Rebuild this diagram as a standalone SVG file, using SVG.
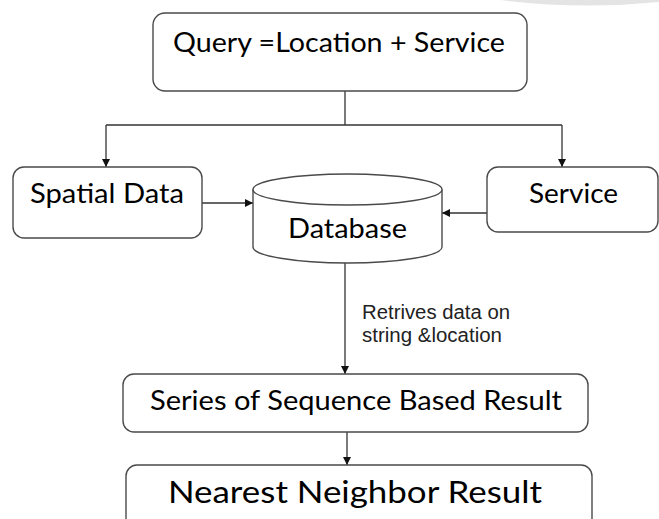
<svg xmlns="http://www.w3.org/2000/svg" width="659" height="519" viewBox="0 0 659 519">
  <style>
    .box { fill: #ffffff; stroke: #4a4a4a; stroke-width: 1.4; }
    .wire { fill: none; stroke: #333333; stroke-width: 1.3; }
    .lbl { font-family: Lato, "Open Sans", "Liberation Sans", sans-serif; fill: #000000; }
    .note { font-family: "Liberation Sans", Arial, sans-serif; font-size: 20px; fill: #222222; }
  </style>
  <defs>
    <marker id="arrow" viewBox="0 0 10 10" refX="10" refY="5" markerWidth="8" markerHeight="8" markerUnits="userSpaceOnUse" orient="auto">
      <path d="M0,0 L10,5 L0,10 Z" fill="#111111"/>
    </marker>
  </defs>
  <rect width="659" height="519" fill="#ffffff"/>
  <!-- faint page-curl shading at the top edge -->
  <path d="M500,0 Q580,10 659,2 L659,0 Z" fill="#d8d8d8" opacity="0.7"/>

  <g id="connectors">
    <path class="wire" d="M345,91 V125"/>
    <path class="wire" d="M106,125 H562"/>
    <path class="wire" d="M106,125 V167" marker-end="url(#arrow)"/>
    <path class="wire" d="M562,125 V167" marker-end="url(#arrow)"/>
    <path class="wire" d="M202,203 H253" marker-end="url(#arrow)"/>
    <path class="wire" d="M487,213 H442" marker-end="url(#arrow)"/>
    <path class="wire" d="M345,263 V374" marker-end="url(#arrow)"/>
    <path class="wire" d="M347,432 V465" marker-end="url(#arrow)"/>
    <text class="note" x="362" y="319" textLength="148" lengthAdjust="spacingAndGlyphs">Retrives data on</text>
    <text class="note" x="362" y="342" textLength="140" lengthAdjust="spacingAndGlyphs">string &amp;location</text>
  </g>

  <g id="query">
    <rect class="box" x="153" y="13" width="374" height="78" rx="12"/>
    <text class="lbl" x="173" y="52" font-size="27" textLength="332" lengthAdjust="spacingAndGlyphs">Query =Location + Service</text>
  </g>

  <g id="spatial-data">
    <rect class="box" x="13" y="167" width="189" height="71" rx="11"/>
    <text class="lbl" x="30" y="203" font-size="27" textLength="154" lengthAdjust="spacingAndGlyphs">Spatial Data</text>
  </g>

  <g id="service">
    <rect class="box" x="487" y="167" width="171" height="65" rx="11"/>
    <text class="lbl" x="529" y="203" font-size="27" textLength="89" lengthAdjust="spacingAndGlyphs">Service</text>
  </g>

  <g id="database">
    <path class="box" d="M253,189.5 V247 A94.5,16 0 0 0 442,247 V189.5"/>
    <ellipse class="box" cx="347.5" cy="189.5" rx="94.5" ry="15.5"/>
    <text class="lbl" x="288" y="238" font-size="27" textLength="119" lengthAdjust="spacingAndGlyphs">Database</text>
  </g>

  <g id="sequence-result">
    <rect class="box" x="123" y="374" width="465" height="58" rx="11"/>
    <text class="lbl" x="150" y="410" font-size="27" textLength="412" lengthAdjust="spacingAndGlyphs">Series of Sequence Based Result</text>
  </g>

  <g id="nearest-result">
    <rect class="box" x="126" y="465" width="466" height="70" rx="11"/>
    <text class="lbl" x="168" y="503" font-size="30" textLength="374" lengthAdjust="spacingAndGlyphs">Nearest Neighbor Result</text>
  </g>
</svg>
